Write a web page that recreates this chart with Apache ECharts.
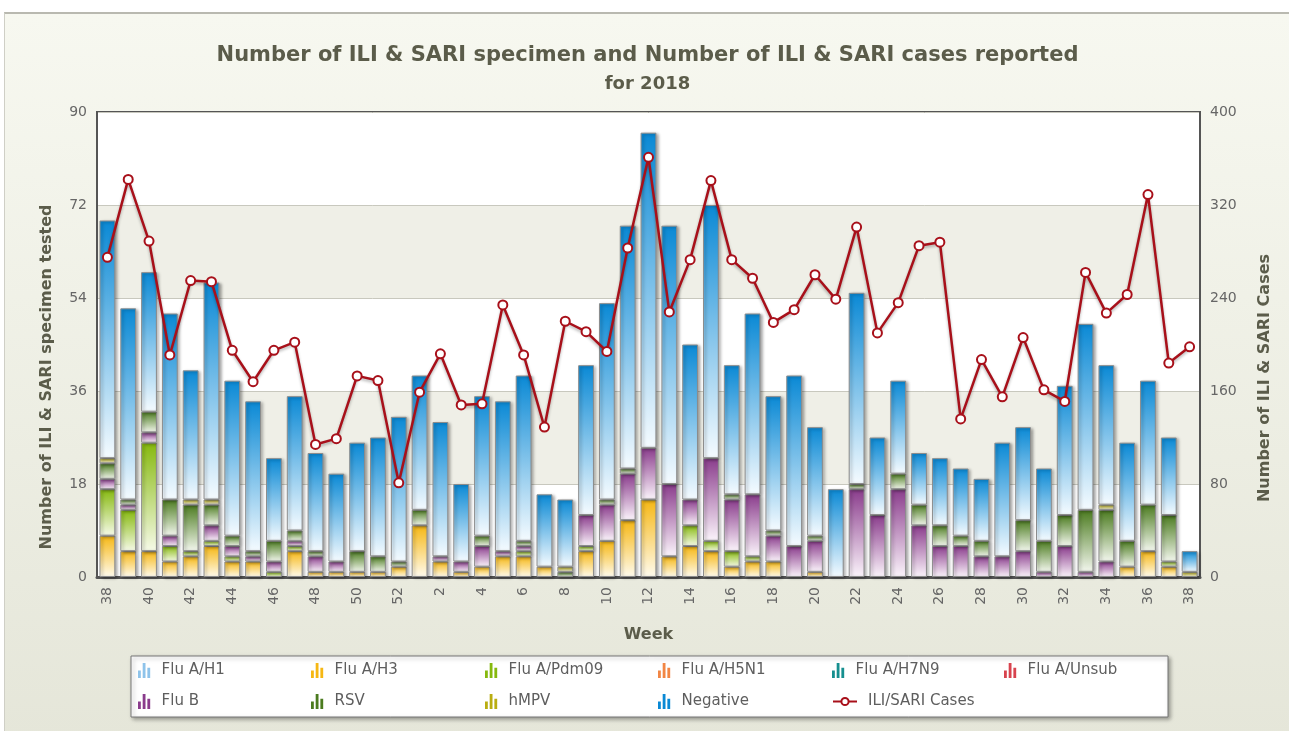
<!DOCTYPE html>
<html>
<head>
<meta charset="utf-8">
<script src="https://cdn.jsdelivr.net/npm/echarts@6/dist/echarts.min.js"></script>
<style>
  html, body { margin: 0; padding: 0; background: #fff; }
  #wrap {
    position: absolute; left: 4px; top: 12px; width: 1290px; height: 725px;
    border-top: 2px solid #b9b9b0; border-left: 1px solid #cfcfc6;
    background: linear-gradient(#f7f8f0, #e5e6d9);
  }
  #chart { width: 1285px; height: 719px; }
</style>
</head>
<body>
<div id="wrap"><div id="chart"></div></div>
<script>
// weeks 38..52 of 2017, then 1..38 of 2018
const weeks = ['38','39','40','41','42','43','44','45','46','47','48','49','50','51','52',
  '1','2','3','4','5','6','7','8','9','10','11','12','13','14','15','16','17','18','19','20',
  '21','22','23','24','25','26','27','28','29','30','31','32','33','34','35','36','37','38']

const fluH1 = []
const fluH3 = [8,5,5,3,4,6,3,3,0,5,1,1,1,1,2,
  10,3,1,2,4,4,2,0,5,7,11,15,4,6,5,2,3,3,0,1,
  0,0,0,0,0,0,0,0,0,0,0,0,0,0,2,5,2,0]
const fluPdm09 = [9,8,21,3,1,1,1,0,1,1,0,0,0,0,0,
  0,0,0,0,0,1,0,0,1,0,0,0,0,4,2,3,1,0,0,0,
  0,0,0,0,0,0,0,0,0,0,0,0,0,0,0,0,1,0]
const fluH5N1 = []
const fluH7N9 = []
const fluUnsub = []
const fluB = [2,1,2,2,0,3,2,1,2,1,3,2,0,0,0,
  0,1,2,4,1,1,0,0,6,7,9,10,14,5,16,10,12,5,6,6,
  0,17,12,17,10,6,6,4,4,5,1,6,1,3,0,0,0,0]
const rsv = [3,1,4,7,9,4,2,1,4,2,1,0,4,3,1,
  3,0,0,2,0,1,0,1,0,1,1,0,0,0,0,1,0,1,0,1,
  0,1,0,3,4,4,2,3,0,6,6,6,12,10,5,9,9,0]
const hmpv = [1,0,0,0,1,1,0,0,0,0,0,0,0,0,0,
  0,0,0,0,0,0,0,1,0,0,0,0,0,0,0,0,0,0,0,0,
  0,0,0,0,0,0,0,0,0,0,0,0,0,1,0,0,0,1]
const negative = [46,37,27,36,25,42,30,29,16,26,19,17,21,23,28,
  26,26,15,27,29,32,14,13,29,38,47,61,50,30,49,25,35,26,33,21,
  17,37,15,18,10,13,13,12,22,18,14,25,36,27,19,24,15,4]
const iliSari = [275,342,289,191,255,254,195,168,195,202,114,119,173,169,81,
  159,192,148,149,234,191,129,220,211,194,283,361,228,273,341,273,257,219,230,260,
  239,301,210,236,285,288,136,187,155,206,161,151,262,227,243,329,184,198]

const leftTicks = [0, 18, 36, 54, 72, 90]
const rightTicks = [0, 80, 160, 240, 320, 400]

const barSeries = [
  {name: 'Flu A/H1', data: fluH1, color: '#8ec3ea', end: '#f0f7fd'},
  {name: 'Flu A/H3', data: fluH3, color: '#f6b713', end: '#fffbee'},
  {name: 'Flu A/Pdm09', data: fluPdm09, color: '#86b90e', end: '#f6fae8'},
  {name: 'Flu A/H5N1', data: fluH5N1, color: '#f28644', end: '#fdf1ea'},
  {name: 'Flu A/H7N9', data: fluH7N9, color: '#168f8f', end: '#ecf6f6'},
  {name: 'Flu A/Unsub', data: fluUnsub, color: '#d8434e', end: '#fcefef'},
  {name: 'Flu B', data: fluB, color: '#8a3c8c', end: '#fbf4fb'},
  {name: 'RSV', data: rsv, color: '#4b7b1f', end: '#f3f7ee'},
  {name: 'hMPV', data: hmpv, color: '#b9ad10', end: '#fbf9e6'},
  {name: 'Negative', data: negative, color: '#0a89d5', end: '#f5fbff'}
]
const lineColor = '#a8101a'
const font = 'DejaVu Sans'

const chart = echarts.init(document.getElementById('chart'))

const series = barSeries.map(s => ({
  name: s.name,
  type: 'bar',
  stack: 'tested',
  barCategoryGap: '24%',
  data: s.data.map(v => v || '-'),
  itemStyle: {
    color: new echarts.graphic.LinearGradient(0, 0, 0, 1, [
      {offset: 0, color: s.color},
      {offset: 1, color: s.end}
    ]),
    borderColor: '#8c8c8c',
    borderWidth: 1,
    shadowColor: 'rgba(0,0,0,0.35)',
    shadowBlur: 3,
    shadowOffsetX: 2,
    shadowOffsetY: 1
  }
}))
series.push({
  name: 'ILI/SARI Cases',
  type: 'line',
  yAxisIndex: 1,
  data: iliSari,
  z: 5,
  symbol: 'circle',
  symbolSize: 9,
  lineStyle: {color: lineColor, width: 2.5, shadowColor: 'rgba(0,0,0,0.3)', shadowBlur: 3, shadowOffsetY: 2},
  itemStyle: {color: '#fff', borderColor: lineColor, borderWidth: 2}
})

// one legend per item so the columns line up like the original
const legendCols = [128, 301, 475, 648, 822, 994]
const legends = series.map((s, i) => {
  const isLine = s.type === 'line'
  const col = i < 6 ? i : i - 6
  const c = isLine ? null : barSeries[i].color
  return {
    left: legendCols[col],
    top: i < 6 ? 644 : 675,
    itemWidth: isLine ? 24 : 13,
    itemHeight: isLine ? 9 : 15,
    textStyle: {color: '#5e5e5e', fontFamily: font, fontSize: 15, padding: [0, 0, 0, 6]},
    selectedMode: false,
    data: [isLine ? {name: s.name} : {
      name: s.name,
      icon: 'path://M0,16h3v-8h-3zM5,16h3v-16h-3zM10,16h3v-11h-3z',
      itemStyle: {color: c, borderWidth: 0}
    }]
  }
})

const option = {
  animation: false,
  title: {
    text: 'Number of ILI & SARI specimen and Number of ILI & SARI cases reported',
    subtext: 'for 2018',
    left: 'center',
    top: 26,
    itemGap: 9,
    textStyle: {fontFamily: font, fontWeight: 'bold', fontSize: 21, color: '#5b5c4a'},
    subtextStyle: {fontFamily: font, fontWeight: 'bold', fontSize: 18, color: '#5b5c4a'}
  },
  grid: {
    left: 92, right: 90, top: 98, bottom: 156,
    show: true, backgroundColor: '#fff', borderColor: '#555', borderWidth: 2
  },
  legend: legends,
  graphic: [
    {
      type: 'rect', z: -1,
      shape: {x: 126, y: 642, width: 1037, height: 61},
      style: {fill: '#fff', stroke: '#777', lineWidth: 1, shadowColor: 'rgba(0,0,0,0.35)', shadowBlur: 4, shadowOffsetX: 2, shadowOffsetY: 2}
    },
    {
      type: 'text', x: 42, y: 363, rotation: Math.PI / 2,
      style: {text: 'Number of ILI & SARI specimen tested', fill: '#5b5c4a', font: 'bold 16px ' + font, textAlign: 'center', textVerticalAlign: 'middle'}
    },
    {
      type: 'text', x: 1260, y: 364, rotation: Math.PI / 2,
      style: {text: 'Number of ILI & SARI Cases', fill: '#5b5c4a', font: 'bold 16px ' + font, textAlign: 'center', textVerticalAlign: 'middle'}
    }
  ],
  xAxis: {
    type: 'category',
    data: weeks,
    name: 'Week',
    nameLocation: 'middle',
    nameGap: 50,
    nameTextStyle: {fontFamily: font, fontWeight: 'bold', fontSize: 16, color: '#5b5c4a'},
    axisLine: {lineStyle: {color: '#555', width: 3}},
    axisTick: {show: false},
    axisLabel: {interval: 1, rotate: 90, color: '#666', fontFamily: font, fontSize: 14, margin: 10}
  },
  yAxis: [
    {
      type: 'value', min: leftTicks[0], max: leftTicks[leftTicks.length - 1], interval: 18,
      axisLine: {show: true, lineStyle: {color: '#555', width: 2}},
      axisTick: {show: false},
      axisLabel: {color: '#666', fontFamily: font, fontSize: 14, margin: 10},
      splitLine: {lineStyle: {color: '#c8c8be'}},
      splitArea: {show: true, areaStyle: {color: ['rgba(255,255,255,0)', '#efefe7']}}
    },
    {
      type: 'value', min: rightTicks[0], max: rightTicks[rightTicks.length - 1], interval: 80,
      axisLine: {show: true, lineStyle: {color: '#555', width: 2}},
      axisTick: {show: false},
      axisLabel: {color: '#666', fontFamily: font, fontSize: 14, margin: 10},
      splitLine: {show: false}
    }
  ],
  series: series
}
chart.setOption(option)
</script>
</body>
</html>
